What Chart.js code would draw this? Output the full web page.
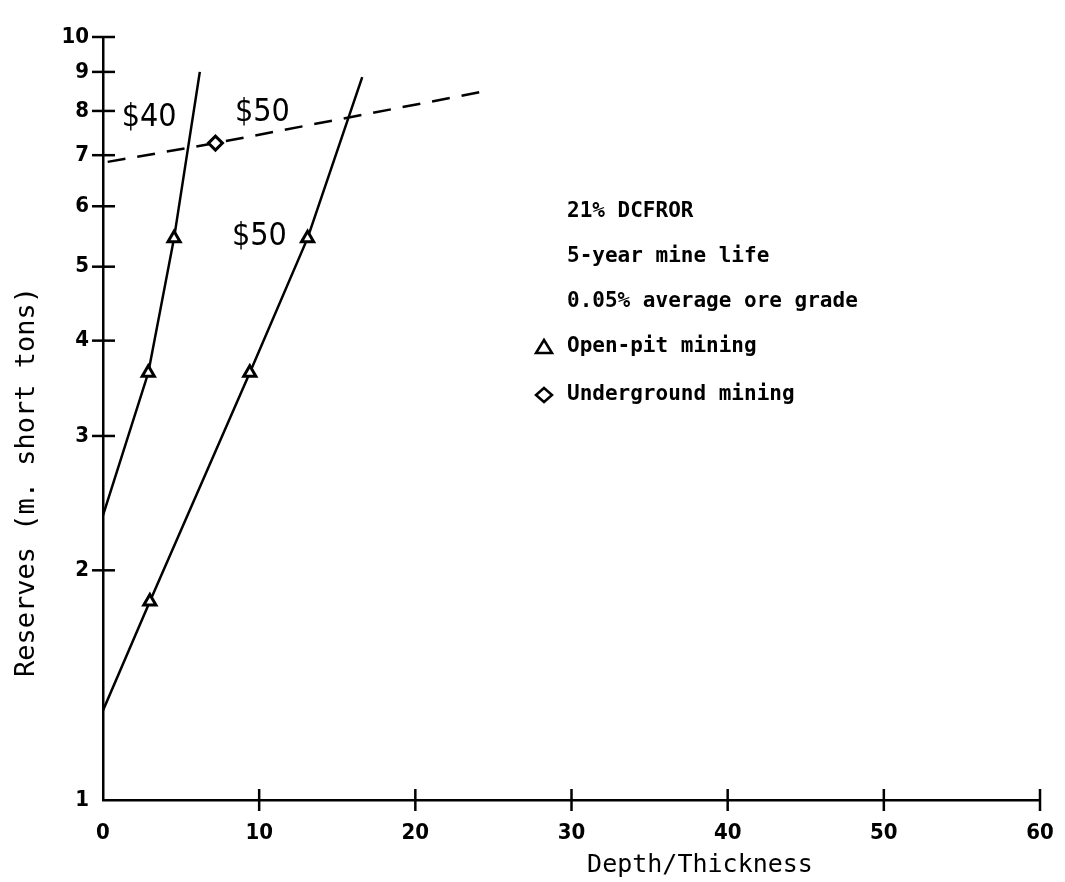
<!DOCTYPE html>
<html>
<head>
<meta charset="utf-8">
<title>Reserves vs Depth/Thickness</title>
<style>
  html, body { margin: 0; padding: 0; background: #fff; }
  #wrap { width: 1065px; height: 882px; position: relative; }
</style>
</head>
<body>
<div id="wrap"><canvas id="myChart"></canvas></div>
<script src="https://cdn.jsdelivr.net/npm/chart.js@4.4.0/dist/chart.umd.min.js"></script>
<script>
// open-pit mining, $40 line (ends are line ends, middle points are triangles)
const pit40X = [0, 2.9, 4.55, 6.2];
const pit40Y = [2.36, 3.63, 5.45, 9.0];
const pit40Marks = [false, true, true, false];

// open-pit mining, $50 line
const pit50X = [0, 3.0, 9.4, 13.1, 16.6];
const pit50Y = [1.31, 1.82, 3.63, 5.45, 8.86];
const pit50Marks = [false, true, true, true, false];

// underground mining, $50 (dashed)
const ugX = [0.3, 7.2, 24.2];
const ugY = [6.86, 7.26, 8.47];
const ugMarks = [false, true, false];

const xTicks = [0, 10, 20, 30, 40, 50, 60];
const yTicks = [1, 2, 3, 4, 5, 6, 7, 8, 9, 10];

const lineLabels = [
  { text: '$40', x: 1.2, y: 7.85 },
  { text: '$50', x: 8.45, y: 7.95 },
  { text: '$50', x: 8.26, y: 5.47 }
];
const noteLines = ['21% DCFROR', '5-year mine life', '0.05% average ore grade'];
const legendLabels = ['Open-pit mining', 'Underground mining'];

const yTitle = 'Reserves (m. short tons)';
const xTitle = 'Depth/Thickness';

function toPoints(xs, ys) {
  return xs.map((x, i) => ({ x: x, y: ys[i] }));
}

function lineSet(xs, ys, marks, style, dash) {
  return {
    data: toPoints(xs, ys),
    showLine: true,
    borderColor: '#000',
    borderWidth: 2.5,
    borderDash: dash || [],
    tension: 0,
    fill: false,
    pointStyle: style,
    pointBackgroundColor: '#fff',
    pointBorderColor: '#000',
    pointBorderWidth: 3,
    pointRadius: ctx => marks[ctx.dataIndex] ? 7 : 0,
    pointHoverRadius: ctx => marks[ctx.dataIndex] ? 7 : 0
  };
}

// crossing ticks on both axes, labels on the lines, notes, legend, titles
const extras = {
  id: 'extras',
  afterDraw(chart) {
    const c = chart.ctx;
    const xs = chart.scales.x, ys = chart.scales.y;
    const area = chart.chartArea;
    c.save();
    c.strokeStyle = '#000';
    c.lineWidth = 2.5;
    xTicks.forEach(v => {
      if (v === 0) return;
      const px = xs.getPixelForValue(v);
      c.beginPath();
      c.moveTo(px, area.bottom - 11);
      c.lineTo(px, area.bottom + 11);
      c.stroke();
    });
    yTicks.forEach(v => {
      if (v === 1) return;
      const py = ys.getPixelForValue(v);
      c.beginPath();
      c.moveTo(area.left - 11, py);
      c.lineTo(area.left + 12, py);
      c.stroke();
    });

    c.fillStyle = '#000';
    c.textBaseline = 'middle';
    c.textAlign = 'left';
    c.font = '32px "DejaVu Sans Condensed", "DejaVu Sans", sans-serif';
    lineLabels.forEach(l => {
      c.fillText(l.text, xs.getPixelForValue(l.x), ys.getPixelForValue(l.y));
    });

    c.font = 'bold 21px "DejaVu Sans Mono", monospace';
    const noteX = area.left + 464;
    const noteY0 = area.top + 175, step = 45;
    noteLines.forEach((t, i) => c.fillText(t, noteX, noteY0 + i * step));
    legendLabels.forEach((t, i) => {
      const y = noteY0 + (noteLines.length + i) * step + 3 * i;
      c.fillText(t, noteX, y);
      const mx = noteX - 23;
      c.beginPath();
      if (i === 0) {
        c.moveTo(mx, y - 7);
        c.lineTo(mx + 8, y + 6);
        c.lineTo(mx - 8, y + 6);
      } else {
        c.moveTo(mx, y - 7);
        c.lineTo(mx + 8, y);
        c.lineTo(mx, y + 7);
        c.lineTo(mx - 8, y);
      }
      c.closePath();
      c.fillStyle = '#fff';
      c.fill();
      c.lineWidth = 2.5;
      c.stroke();
      c.fillStyle = '#000';
    });

    c.font = '25px "DejaVu Sans Mono", monospace';
    c.textAlign = 'center';
    c.fillText(xTitle, 700, 865);

    c.translate(27, 482);
    c.rotate(-Math.PI / 2);
    c.font = '27px "DejaVu Sans Mono", monospace';
    c.fillText(yTitle, 0, 0);
    c.restore();
  }
};

const tickFont = { family: '"DejaVu Sans Condensed", "DejaVu Sans", sans-serif', size: 22, weight: 'bold' };

const ctx = document.getElementById('myChart').getContext('2d');
const chart = new Chart(ctx, {
  type: 'scatter',
  data: {
    datasets: [
      lineSet(pit40X, pit40Y, pit40Marks, 'triangle'),
      lineSet(pit50X, pit50Y, pit50Marks, 'triangle'),
      lineSet(ugX, ugY, ugMarks, 'rectRot', [18, 12])
    ]
  },
  options: {
    responsive: true,
    maintainAspectRatio: false,
    animation: false,
    layout: { padding: { top: 37, right: 25, left: 0, bottom: 0 } },
    plugins: {
      legend: { display: false },
      tooltip: { enabled: false }
    },
    scales: {
      x: {
        type: 'linear',
        min: 0,
        max: 60,
        afterBuildTicks: s => { s.ticks = xTicks.map(v => ({ value: v })); },
        afterFit: s => { s.height = 82; s.paddingLeft = 0; s.paddingRight = 0; },
        grid: { drawOnChartArea: false, drawTicks: false },
        border: { display: true, color: '#000', width: 2.5 },
        ticks: { padding: 20, color: '#000', font: tickFont }
      },
      y: {
        type: 'logarithmic',
        min: 1,
        max: 10,
        afterBuildTicks: s => { s.ticks = yTicks.map(v => ({ value: v, major: true })); },
        afterFit: s => { s.width = 103; s.paddingTop = 0; s.paddingBottom = 0; },
        grid: { drawOnChartArea: false, drawTicks: false },
        border: { display: true, color: '#000', width: 2.5 },
        ticks: {
          autoSkip: false,
          padding: 14,
          color: '#000',
          callback: v => String(v),
          font: tickFont
        }
      }
    }
  },
  plugins: [extras]
});
</script>
</body>
</html>
